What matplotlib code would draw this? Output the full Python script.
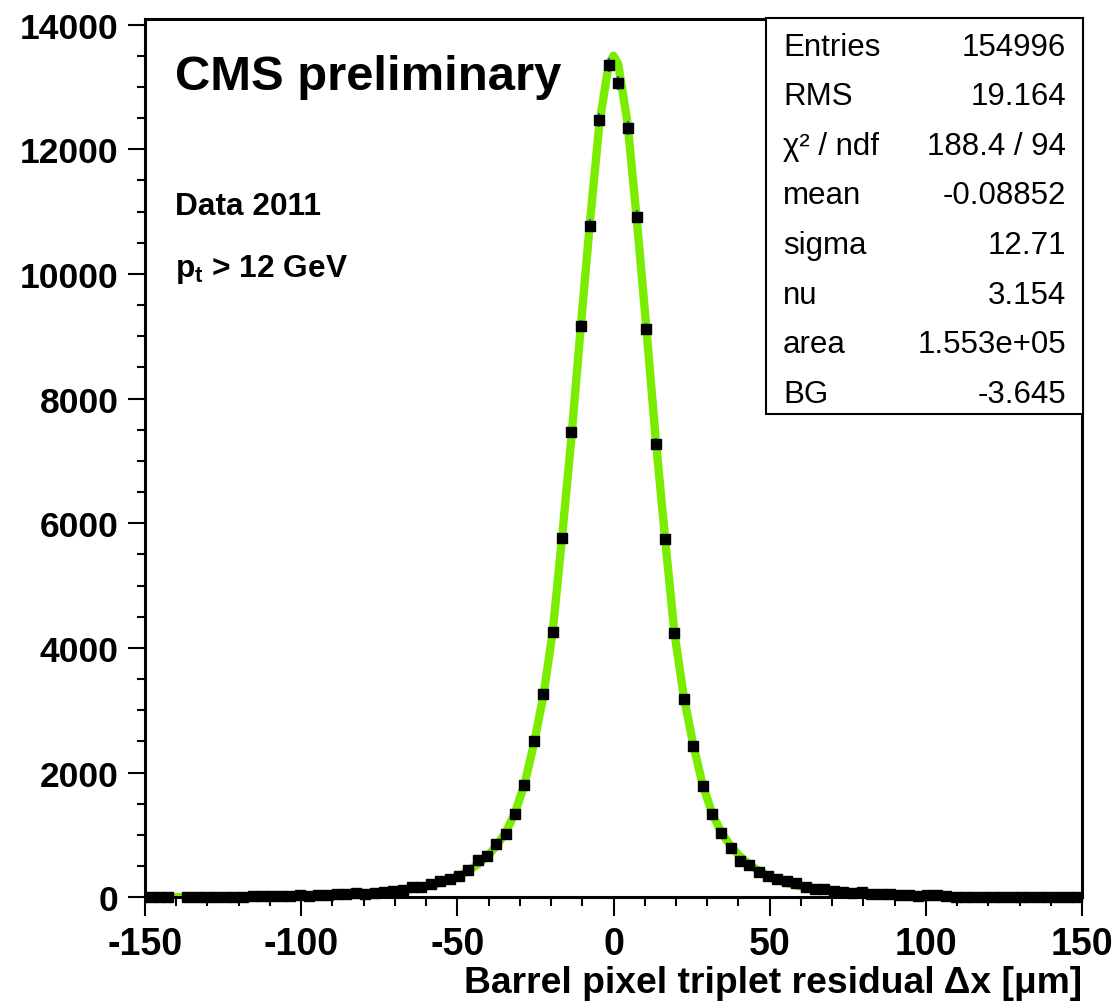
import numpy as np
import matplotlib
matplotlib.use("Agg")
import matplotlib.pyplot as plt
from matplotlib.patches import Rectangle
from matplotlib.ticker import MultipleLocator

plt.rcParams['font.family'] = ['Liberation Sans', 'DejaVu Sans']
plt.rcParams['axes.unicode_minus'] = False
plt.rcParams['mathtext.fontset'] = 'custom'
plt.rcParams['mathtext.rm'] = 'Liberation Sans'
plt.rcParams['mathtext.bf'] = 'Liberation Sans:bold'
plt.rcParams['mathtext.it'] = 'Liberation Sans:italic'

# ── histogram: 100 bins of 3 um from -150 to 150 ──
bin_lo, bin_hi, bin_w = -150.0, 150.0, 3.0
centers = np.arange(bin_lo + bin_w / 2, bin_hi, bin_w)

counts_left = [8, 6, 7, np.nan, 6, 11, 10, 12, 4, 12,
               11, 13, 18, 26, 22, 24, 38, 27, 33, 35,
               55, 52, 66, 50, 76, 82, 102, 118, 166, 159,
               210, 265, 287, 341, 432, 600, 667, 848, 1022, 1330,
               1806, 2505, 3263, 4253, 5770, 7460, 9170, 10770, 12470, 13350]
counts_right = [13060, 12340, 10920, 9120, 7275, 5750, 4237, 3183, 2424, 1779,
                1339, 1027, 791, 578, 515, 411, 335, 292, 260, 229,
                173, 133, 125, 106, 78, 75, 80, 53, 53, 50,
                42, 36, 24, 34, 30, 20, 10, 9, 8, 10,
                7, 8, 9, 6, 7, 8, 6, 7, 9, 7]
counts = np.array(counts_left + counts_right, dtype=float)

# fitted curve (Student-t), half profile, mirrored
fit_half_x = [0, 1.5, 4.5, 7.5, 10.5, 13.5, 16.5, 19.5, 22.5, 25.5, 28.5,
              31.5, 34.5, 37.5, 40.5, 43.5, 46.5, 49.5, 52.5, 55.5, 58.5,
              61.5, 64.5, 67.5, 70.5, 73.5, 76.5, 79.5, 82.5, 85.5, 88.5,
              91.5, 94.5, 97.5, 100.5, 103.5, 106.5, 109.5, 112.5, 115.5, 118.5,
              121.5, 124.5, 127.5, 130.5, 133.5, 136.5, 139.5, 142.5, 145.5, 148.5, 150]
fit_half_y = [13500, 13370, 12420, 10850, 9140, 7360, 5760, 4245, 3220, 2455, 1815,
              1360, 1040, 825, 655, 528, 425, 345, 281, 231, 190,
              158, 132, 111, 94, 79, 68, 58, 50, 43, 37,
              32, 28, 24, 21, 18, 16, 14, 12, 10.5, 9,
              8, 7, 6, 5, 4.3, 3.6, 3.0, 2.5, 2.0, 1.5, 1.3]
fit_x = np.concatenate([-np.array(fit_half_x[::-1]), np.array(fit_half_x[1:])])
fit_y = np.concatenate([np.array(fit_half_y[::-1]), np.array(fit_half_y[1:])])

stats_labels = ["Entries", "RMS", "χ² / ndf", "mean", "sigma", "nu", "area", "BG"]
stats_values = ["154996", "19.164", "188.4 / 94", "-0.08852", "12.71", "3.154", "1.553e+05", "-3.645"]

# ============================================================
fig = plt.figure(figsize=(11.18, 10.03), dpi=100)
ax = fig.add_axes([0.1297, 0.1044, 0.8381, 0.8757])

ax.plot(fit_x, fit_y, color="#7aec00", lw=6.0, solid_capstyle="round",
        solid_joinstyle="round", zorder=2)
ax.errorbar(centers, counts, yerr=np.sqrt(np.nan_to_num(counts)), fmt="none",
            ecolor="#1f5cff", elinewidth=1.6, capsize=0, zorder=3, clip_on=False)
ax.plot(centers, counts, ls="none", marker="s", ms=7.0, mfc="black", mec="black",
        zorder=4, clip_on=False)

ax.set_xlim(bin_lo, bin_hi)
ax.set_ylim(0, 14090)
ax.xaxis.set_major_locator(MultipleLocator(50))
ax.xaxis.set_minor_locator(MultipleLocator(10))
ax.yaxis.set_major_locator(MultipleLocator(2000))
ax.yaxis.set_minor_locator(MultipleLocator(500))

ax.tick_params(axis="x", which="major", direction="out", length=13.5, width=1.5,
               labelsize=27, pad=7)
ax.tick_params(axis="x", which="minor", direction="out", length=6.5, width=1.5)
ax.tick_params(axis="y", which="major", direction="out", length=12, width=1.5,
               labelsize=25.5, pad=7)
ax.tick_params(axis="y", which="minor", direction="out", length=6, width=1.5)
for lab in ax.get_xticklabels() + ax.get_yticklabels():
    lab.set_fontweight("bold")
for sp in ax.spines.values():
    sp.set_linewidth(2.2)

# ── labels ──
fig.text(0.9678, 0.0100, "Barrel pixel triplet residual Δx [μm]", ha="right",
         va="baseline", fontsize=26.8, fontweight="bold")
fig.text(0.1565, 0.9103, "CMS preliminary", ha="left", va="baseline",
         fontsize=35.3, fontweight="bold")
fig.text(0.1565, 0.7856, "Data 2011", ha="left", va="baseline",
         fontsize=22.8, fontweight="bold")
fig.text(0.1565, 0.7238, r"$\mathbf{p_{t}}$ > 12 GeV", ha="left", va="baseline",
         fontsize=22.8, fontweight="bold")

# ── stats box ──
bx0, by0, bx1, by1 = 0.6852, 0.5862, 0.9687, 0.9811
fig.add_artist(Rectangle((bx0, by0), bx1 - bx0, by1 - by0, transform=fig.transFigure,
                         facecolor="white", edgecolor="black", lw=1.5, zorder=10))
row_h = (by1 - by0) / len(stats_labels)
for i, (lab, val) in enumerate(zip(stats_labels, stats_values)):
    yb = by1 - row_h * i - 37 / 1003
    fig.text(0.7004, yb, lab, ha="left", va="baseline", fontsize=22.5, zorder=11)
    fig.text(0.9535, yb, val, ha="right", va="baseline", fontsize=22.5, zorder=11)

fig.savefig("out.png", dpi=100)
